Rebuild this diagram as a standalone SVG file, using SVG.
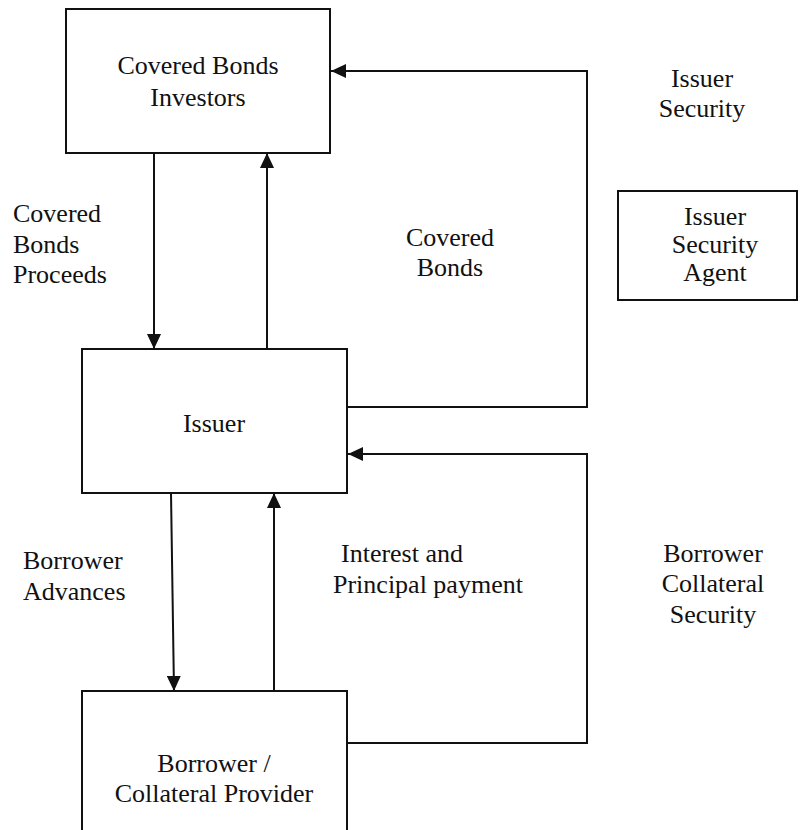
<svg xmlns="http://www.w3.org/2000/svg" width="800" height="830" viewBox="0 0 800 830">
<style>
.t{font-family:'Times New Roman','Tinos','Liberation Serif','DejaVu Serif','Noto Serif',serif;font-size:26px;fill:#111}
.c{text-anchor:middle}
.box{fill:#fff;stroke:#111;stroke-width:2}
.ln{fill:none;stroke:#111;stroke-width:2}
</style>
<defs>
<marker id="ah" markerUnits="userSpaceOnUse" markerWidth="15" markerHeight="14" refX="15" refY="7" orient="auto">
<path d="M0,0 L15,7 L0,14 z" fill="#111"/>
</marker>
</defs>
<rect width="800" height="830" fill="#fff"/>
<g id="investors">
<rect class="box" x="66" y="9" width="264" height="144"/>
<text class="t c" x="198" y="74">Covered Bonds</text>
<text class="t c" x="198" y="106">Investors</text>
</g>
<g id="issuer">
<rect class="box" x="82" y="349" width="265" height="144"/>
<text class="t c" x="214" y="432">Issuer</text>
</g>
<g id="borrower">
<rect class="box" x="82" y="691" width="265" height="150"/>
<text class="t c" x="214" y="772">Borrower /</text>
<text class="t c" x="214" y="802">Collateral Provider</text>
</g>
<g id="agent">
<rect class="box" x="618" y="191" width="179" height="109"/>
<text class="t c" x="715" y="225">Issuer</text>
<text class="t c" x="715" y="253">Security</text>
<text class="t c" x="715" y="281">Agent</text>
</g>
<g id="connectors">
<path class="ln" d="M154,153 V349" marker-end="url(#ah)"/>
<path class="ln" d="M267,349 V153" marker-end="url(#ah)"/>
<path class="ln" d="M347,407 H587 V71 H331" marker-end="url(#ah)"/>
<path class="ln" d="M347,743 H587 V454 H348" marker-end="url(#ah)"/>
<path class="ln" d="M171,493 L174,691" marker-end="url(#ah)"/>
<path class="ln" d="M274,691 V493" marker-end="url(#ah)"/>
</g>
<g id="labels">
<text class="t" x="13" y="222">Covered</text>
<text class="t" x="13" y="253">Bonds</text>
<text class="t" x="13" y="283">Proceeds</text>
<text class="t c" x="450" y="246">Covered</text>
<text class="t c" x="450" y="276">Bonds</text>
<text class="t c" x="702" y="87">Issuer</text>
<text class="t c" x="702" y="117">Security</text>
<text class="t" x="23" y="569">Borrower</text>
<text class="t" x="23" y="600">Advances</text>
<text class="t" x="341" y="562">Interest and</text>
<text class="t" x="333" y="593">Principal payment</text>
<text class="t c" x="713" y="562">Borrower</text>
<text class="t c" x="713" y="592">Collateral</text>
<text class="t c" x="713" y="623">Security</text>
</g>
</svg>
